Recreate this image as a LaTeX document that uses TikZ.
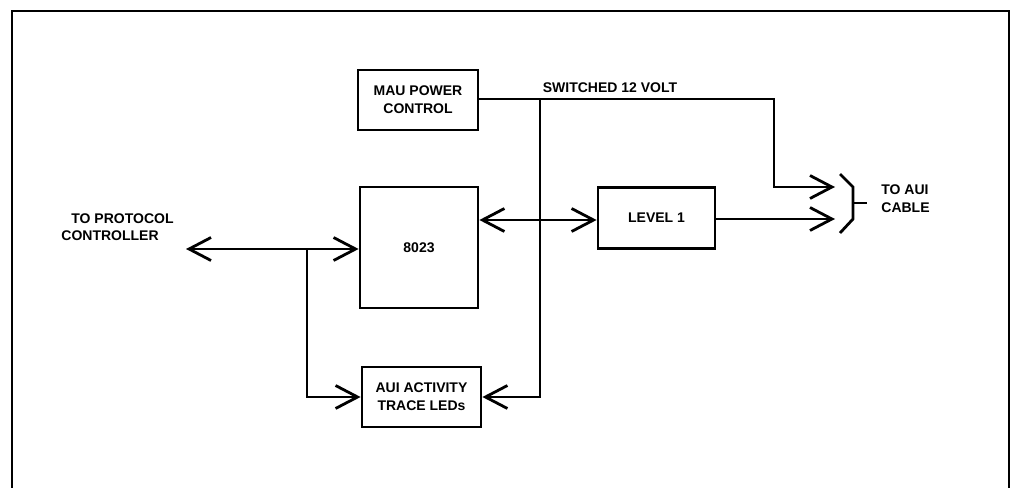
\documentclass[tikz,border=0pt]{standalone}
\usepackage{fontspec}
\setmainfont{Liberation Sans}
\usetikzlibrary{arrows.meta}
\begin{document}
\begin{tikzpicture}[x=1pt,y=-1pt,
  line width=2.8pt,
  blk/.style={draw,line width=2.8pt,inner sep=0pt,align=center,font=\fontsize{14}{18}\selectfont\bfseries},
  lbl/.style={font=\fontsize{14}{18}\selectfont\bfseries,inner sep=0pt},
  barb/.style={-{Straight Barb[length=22pt,width=23pt,line width=2.8pt]}},
  dbarb/.style={{Straight Barb[length=22pt,width=23pt,line width=2.8pt]}-{Straight Barb[length=22pt,width=23pt,line width=2.8pt]}}]
\useasboundingbox (0,0) rectangle (1011,487);
% frame
\draw[line width=2.6pt] (12,490) -- (12,11) -- (1009,11) -- (1009,490);
% boxes
\node[blk,minimum width=120pt,minimum height=60pt] (mau) at (418,100) {MAU POWER\\CONTROL};
\node[blk,minimum width=118pt,minimum height=121pt] (chip) at (419,247.5) {8023};
\node[blk,minimum width=117pt,minimum height=61pt] (lvl) at (656.5,218) {LEVEL 1};
\node[blk,minimum width=119pt,minimum height=60pt] (aui) at (421.5,397) {AUI ACTIVITY\\TRACE LEDs};
% labels
\node[lbl] (sw) at (610,88) {SWITCHED 12 VOLT};
\node[lbl,anchor=west] (toa) at (880,190) {TO AUI};
\node[lbl,anchor=west] (cab) at (880,208) {CABLE};
\node[lbl,anchor=west] (top) at (70,219) {TO PROTOCOL};
\node[lbl,anchor=west] (ctl) at (60,236) {CONTROLLER};
% coordinates
\coordinate (pwrc) at (774,99);
\coordinate (tap) at (540,99);
\coordinate (cab1) at (835,187);
\coordinate (cab2) at (835,219);
\coordinate (prot) at (186,249);
\coordinate (br) at (307,249);
% bracket
\coordinate (bk1) at (840,174);
\coordinate (bk2) at (853,187);
\coordinate (bk3) at (853,219);
\coordinate (bk4) at (840,233);
\coordinate (bkt) at (867,203);
\draw (bk1) -- (bk2) -- (bk3) -- (bk4);
\draw (bk2 |- bkt) -- (bkt);
% power line
\draw[barb] (mau.east |- pwrc) -- (pwrc) |- (cab1);
\draw[barb] (tap) |- (aui.east);
% data paths
\draw[dbarb] (chip.east |- 0,220) -- (lvl.west |- 0,220);
\draw[barb] (lvl.east |- cab2) -- (cab2);
\draw[dbarb] (prot) -- (chip.west |- prot);
\draw[barb] (br) |- (aui.west);
\end{tikzpicture}
\end{document}
